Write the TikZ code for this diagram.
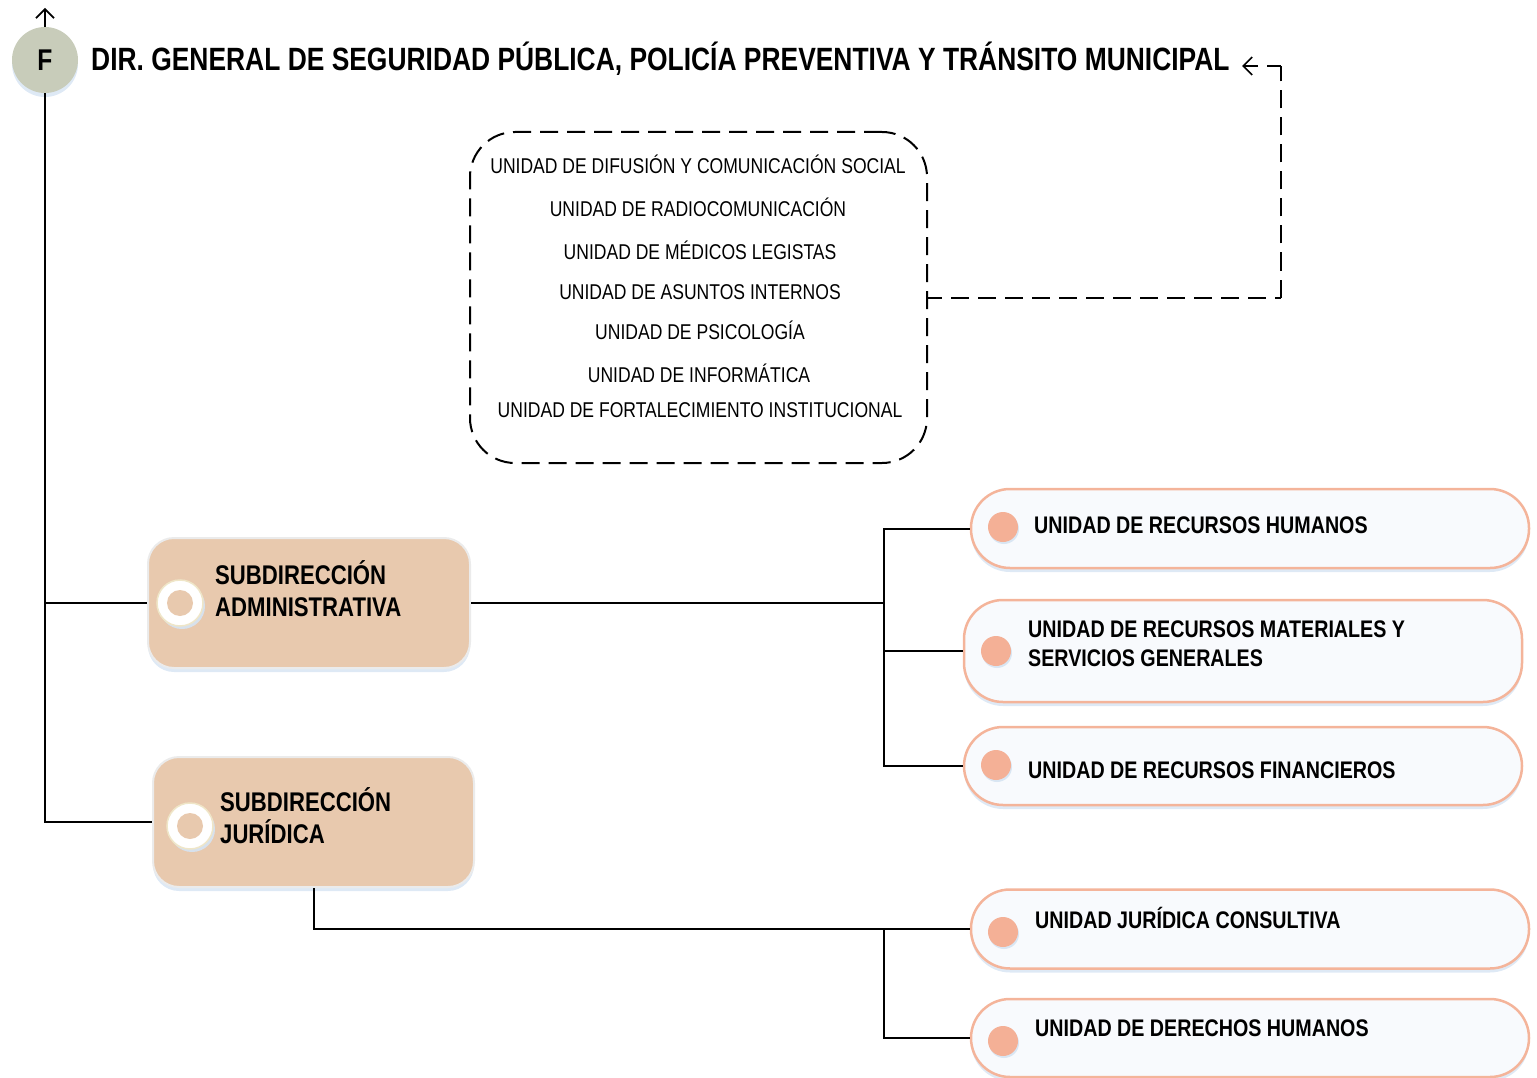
\documentclass[tikz,border=0pt]{standalone}
\usepackage{fontspec}
\setmainfont[FakeStretch=0.82]{Liberation Sans}
\usetikzlibrary{arrows.meta,shadows}
\definecolor{fgreen}{HTML}{C8CCBA}
\definecolor{tanfill}{HTML}{E8C9AE}
\definecolor{salmon}{HTML}{F4B49A}
\definecolor{dotfill}{HTML}{F4B096}
\definecolor{boxfill}{HTML}{F8FAFD}
\definecolor{shadowblue}{HTML}{D6E4F3}
\definecolor{ringedge}{HTML}{EFE6C8}
\begin{document}
\begin{tikzpicture}[x=1pt,y=-1pt,
  conn/.style={draw=black,line width=2pt},
  dashline/.style={draw=black,line width=2pt,dash pattern=on 18pt off 9pt},
  tipstyle/.style={-{Straight Barb[length=9pt,width=18pt,line width=1.7pt]}},
  softshadow/.style={drop shadow={shadow xshift=0pt,shadow yshift=-4pt,fill=shadowblue,opacity=0.8}},
  fcircle/.style={circle,fill=fgreen,minimum size=66pt,inner sep=0pt,softshadow,
    font=\bfseries\fontsize{30}{30}\selectfont},
  titletext/.style={anchor=west,inner sep=0pt,font=\bfseries\fontsize{32.2}{32}\selectfont},
  dbox/.style={draw=black,line width=2pt,dash pattern=on 18pt off 9pt,rounded corners=45pt,
    minimum width=457pt,minimum height=331pt,inner sep=0pt},
  utext/.style={inner sep=0pt,font=\fontsize{21.4}{21}\selectfont},
  subbox/.style={rounded corners=26pt,fill=tanfill,draw=black!8,line width=2pt,
    minimum width=322pt,minimum height=130pt,inner sep=0pt,softshadow},
  ringout/.style={circle,fill=white,draw=ringedge,line width=1.5pt,minimum size=46pt,inner sep=0pt,
    drop shadow={shadow xshift=2pt,shadow yshift=-3pt,fill=shadowblue,opacity=0.9}},
  ringin/.style={circle,fill=tanfill,minimum size=26pt,inner sep=0pt},
  subtext/.style={anchor=west,inner sep=0pt,align=left,font=\bfseries\fontsize{27}{32}\selectfont},
  rbox/.style={rounded corners=39pt,draw=salmon,line width=2.5pt,fill=boxfill,
    minimum width=558pt,inner sep=0pt,softshadow},
  rdot/.style={circle,fill=dotfill,minimum size=30pt,inner sep=0pt,
    drop shadow={shadow xshift=1pt,shadow yshift=-2pt,fill=shadowblue,opacity=0.9}},
  rtext/.style={anchor=west,inner sep=0pt,align=left,font=\bfseries\fontsize{24}{29}\selectfont}
]
\useasboundingbox (0,0) rectangle (1537,1078);

% top node
\node[fcircle] (F) at (45,60) {F};
\coordinate (top) at (45,8);
\draw[line width=1.7pt,tipstyle] (F.north) -- (top);
\node[titletext] (T) at (91,59) {DIR. GENERAL DE SEGURIDAD PÚBLICA, POLICÍA PREVENTIVA Y TRÁNSITO MUNICIPAL};

% dashed box
\node[dbox] (D) at (698.5,297.5) {};
\node[utext] (d1) at (698,164) {UNIDAD DE DIFUSIÓN Y COMUNICACIÓN SOCIAL};
\node[utext] (d2) at (698,207) {UNIDAD DE RADIOCOMUNICACIÓN};
\node[utext] (d3) at (700,250) {UNIDAD DE MÉDICOS LEGISTAS};
\node[utext] (d4) at (700,292) {UNIDAD DE ASUNTOS INTERNOS};
\node[utext] (d5) at (700,330) {UNIDAD DE PSICOLOGÍA};
\node[utext] (d6) at (699,373) {UNIDAD DE INFORMÁTICA};
\node[utext] (d7) at (700,410) {UNIDAD DE FORTALECIMIENTO INSTITUCIONAL};

\coordinate (c1) at (1281,297.5);
\coordinate (c2) at (1281,66);
\coordinate (c3) at (1267,66);
\coordinate (c4) at (1258,66);
\coordinate (ar) at (1242,66);
\draw[dashline,dash phase=4pt] (D.east) -- (c1);
\draw[dashline,dash phase=0pt] (c1) -- (c2);
\draw[conn] (c2) -- (c3);
\draw[line width=1.7pt,tipstyle] (c4) -- (ar);

% sub boxes
\node[subbox] (SA) at (309,603) {};
\node[subbox,minimum width=321pt] (SJ) at (313.5,822) {};
\node[ringout] (ra) at (180,603) {};
\node[ringin] (ra2) at (180,603) {};
\node[ringout] (rj) at (190,826) {};
\node[ringin] (rj2) at (190,826) {};
\node[subtext] (ta) at (215,589) {SUBDIRECCIÓN\\ADMINISTRATIVA};
\node[subtext] (tj) at (220,816) {SUBDIRECCIÓN\\JURÍDICA};

% spine
\coordinate (s1) at (45,603);
\draw[conn] (F.south) |- (SJ.west);
\draw[conn] (s1) -- (SA.west);

% right boxes
\node[rbox,minimum height=79pt] (R1) at (1250,528.5) {};
\node[rbox,minimum height=102pt] (R2) at (1243,651) {};
\node[rbox,minimum height=78pt] (R3) at (1243,766) {};
\node[rbox,minimum height=79pt] (R4) at (1250,929) {};
\node[rbox,minimum height=78pt] (R5) at (1250,1038) {};

\node[rdot] (p1) at (1003,527) {};
\node[rdot] (p2) at (996,651) {};
\node[rdot] (p3) at (996,765) {};
\node[rdot] (p4) at (1003,932) {};
\node[rdot] (p5) at (1003,1041) {};

\node[rtext] (u1) at (1034,525) {UNIDAD DE RECURSOS HUMANOS};
\node[rtext] (u2) at (1028,643.5) {UNIDAD DE RECURSOS MATERIALES Y\\SERVICIOS GENERALES};
\node[rtext] (u3) at (1028,770) {UNIDAD DE RECURSOS FINANCIEROS};
\node[rtext] (u4) at (1035,918) {UNIDAD JURÍDICA CONSULTIVA};
\node[rtext] (u5) at (1035,1028) {UNIDAD DE DERECHOS HUMANOS};

% connectors
\coordinate (b1) at (884,603);
\draw[conn] (SA.east) -- (b1);
\draw[conn] (R1.west) -| (b1);
\draw[conn] (R2.west) -| (b1);
\draw[conn] (R3.west) -| (b1);

\coordinate (j1) at (313.5,929);
\coordinate (j2) at (884,929);
\draw[conn] (SJ.south) -- (j1) -- (R4.west);
\draw[conn] (j2) |- (R5.west);
\end{tikzpicture}
\end{document}
